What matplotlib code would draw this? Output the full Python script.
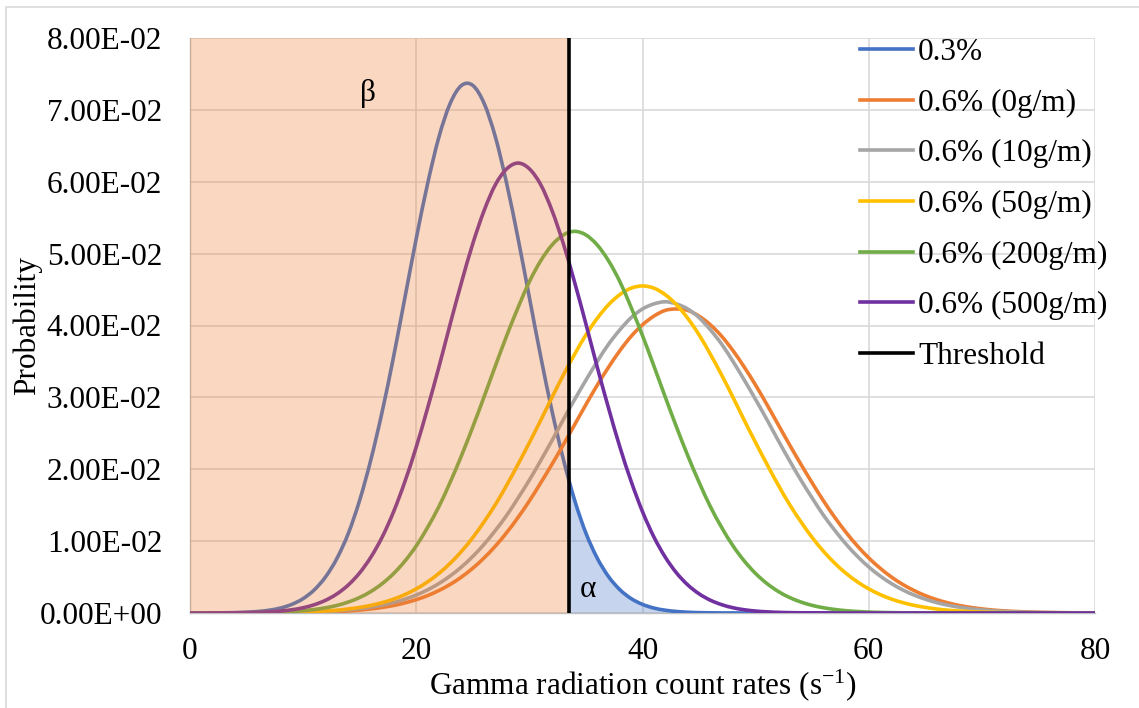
import numpy as np
import matplotlib
matplotlib.use("Agg")
import matplotlib.pyplot as plt
from matplotlib.patches import Rectangle, PathPatch
from matplotlib.path import Path
from matplotlib.ticker import FuncFormatter

plt.rcParams["font.family"] = ["Liberation Serif", "DejaVu Serif"]
plt.rcParams["mathtext.fontset"] = "custom"
plt.rcParams["mathtext.rm"] = "Liberation Serif"
plt.rcParams["mathtext.it"] = "Liberation Serif:italic"

# count rate axis (s^-1), one value per integer
count_rate = list(range(0, 81))

p_03 = [0, 0.00001, 0.00001, 0.00003, 0.00005, 0.00011, 0.00021, 0.00039, 0.00069, 0.00120,
        0.00200, 0.00324, 0.00506, 0.00763, 0.0111, 0.0157, 0.0214, 0.0281, 0.0357, 0.0439,
        0.0521, 0.0597, 0.0662, 0.0709, 0.0734, 0.0734, 0.0709, 0.0662, 0.0597, 0.0521,
        0.0439, 0.0357, 0.0281, 0.0214, 0.0157, 0.0111, 0.00763, 0.00506, 0.00324, 0.00200,
        0.00120, 0.00069, 0.00039, 0.00021, 0.00011, 0.00005, 0.00003, 0.00001, 0.00001, 0,
        0, 0, 0, 0, 0, 0, 0, 0, 0, 0,
        0, 0, 0, 0, 0, 0, 0, 0, 0, 0,
        0, 0, 0, 0, 0, 0, 0, 0, 0, 0, 0]

p_06_0 = [0, 0, 0, 0, 0, 0.00001, 0.00001, 0.00002, 0.00003, 0.00005,
          0.00007, 0.00010, 0.00015, 0.00021, 0.00029, 0.00041, 0.00057, 0.00078, 0.00105, 0.00141,
          0.00186, 0.00242, 0.00313, 0.00398, 0.00501, 0.00624, 0.00767, 0.00932, 0.0112, 0.0133,
          0.0156, 0.0181, 0.0207, 0.0234, 0.0262, 0.0290, 0.0317, 0.0342, 0.0365, 0.0385,
          0.0401, 0.0413, 0.0421, 0.0423, 0.0421, 0.0413, 0.0401, 0.0385, 0.0365, 0.0342,
          0.0317, 0.0290, 0.0262, 0.0234, 0.0207, 0.0181, 0.0156, 0.0133, 0.0112, 0.00932,
          0.00767, 0.00624, 0.00501, 0.00398, 0.00313, 0.00242, 0.00186, 0.00141, 0.00105, 0.00078,
          0.00057, 0.00041, 0.00029, 0.00021, 0.00015, 0.00010, 0.00007, 0.00005, 0.00003, 0.00002,
          0.00001]

p_06_10 = [0, 0, 0, 0, 0.00001, 0.00001, 0.00002, 0.00003, 0.00005, 0.00007,
           0.00010, 0.00015, 0.00021, 0.00030, 0.00043, 0.00059, 0.00081, 0.00109, 0.00145, 0.00192,
           0.00250, 0.00322, 0.00410, 0.00516, 0.00641, 0.00788, 0.00957, 0.0115, 0.0136, 0.0160,
           0.0185, 0.0212, 0.0240, 0.0269, 0.0297, 0.0324, 0.0350, 0.0374, 0.0394, 0.0411,
           0.0423, 0.0430, 0.0433, 0.0430, 0.0423, 0.0411, 0.0394, 0.0374, 0.0350, 0.0324,
           0.0297, 0.0269, 0.0240, 0.0212, 0.0185, 0.0160, 0.0136, 0.0115, 0.00957, 0.00788,
           0.00641, 0.00516, 0.00410, 0.00322, 0.00250, 0.00192, 0.00145, 0.00109, 0.00081, 0.00059,
           0.00043, 0.00030, 0.00021, 0.00015, 0.00010, 0.00007, 0.00005, 0.00003, 0.00002, 0.00001,
           0.00001]

p_06_50 = [0, 0, 0, 0.00001, 0.00001, 0.00002, 0.00002, 0.00004, 0.00006, 0.00009,
           0.00013, 0.00019, 0.00028, 0.00039, 0.00056, 0.00078, 0.00107, 0.00145, 0.00194, 0.00257,
           0.00336, 0.00433, 0.00551, 0.00692, 0.00858, 0.0105, 0.0127, 0.0151, 0.0178, 0.0207,
           0.0237, 0.0268, 0.0300, 0.0331, 0.0360, 0.0387, 0.0410, 0.0429, 0.0443, 0.0452,
           0.0455, 0.0452, 0.0443, 0.0429, 0.0410, 0.0387, 0.0360, 0.0331, 0.0300, 0.0268,
           0.0237, 0.0207, 0.0178, 0.0151, 0.0127, 0.0105, 0.00858, 0.00692, 0.00551, 0.00433,
           0.00336, 0.00257, 0.00194, 0.00145, 0.00107, 0.00078, 0.00056, 0.00039, 0.00028, 0.00019,
           0.00013, 0.00009, 0.00006, 0.00004, 0.00002, 0.00002, 0.00001, 0.00001, 0, 0,
           0]

p_06_200 = [0, 0, 0.00001, 0.00001, 0.00002, 0.00003, 0.00005, 0.00008, 0.00013, 0.00021,
            0.00032, 0.00049, 0.00073, 0.00106, 0.00153, 0.00216, 0.00300, 0.00410, 0.00549, 0.00723,
            0.00934, 0.0119, 0.0148, 0.0182, 0.0219, 0.0259, 0.0301, 0.0344, 0.0386, 0.0425,
            0.0461, 0.0490, 0.0512, 0.0526, 0.0531, 0.0526, 0.0512, 0.0490, 0.0461, 0.0425,
            0.0386, 0.0344, 0.0301, 0.0259, 0.0219, 0.0182, 0.0148, 0.0119, 0.00934, 0.00723,
            0.00549, 0.00410, 0.00300, 0.00216, 0.00153, 0.00106, 0.00073, 0.00049, 0.00032, 0.00021,
            0.00013, 0.00008, 0.00005, 0.00003, 0.00002, 0.00001, 0.00001, 0, 0, 0,
            0, 0, 0, 0, 0, 0, 0, 0, 0, 0, 0]

p_06_500 = [0, 0, 0.00001, 0.00002, 0.00003, 0.00005, 0.00009, 0.00016, 0.00027, 0.00045,
            0.00073, 0.00116, 0.00178, 0.00267, 0.00391, 0.00559, 0.00780, 0.0106, 0.0141, 0.0183,
            0.0231, 0.0285, 0.0342, 0.0402, 0.0460, 0.0514, 0.0560, 0.0596, 0.0618, 0.0626,
            0.0618, 0.0596, 0.0560, 0.0514, 0.0460, 0.0402, 0.0342, 0.0285, 0.0231, 0.0183,
            0.0141, 0.0106, 0.00780, 0.00559, 0.00391, 0.00267, 0.00178, 0.00116, 0.00073, 0.00045,
            0.00027, 0.00016, 0.00009, 0.00005, 0.00003, 0.00002, 0.00001, 0, 0, 0,
            0, 0, 0, 0, 0, 0, 0, 0, 0, 0,
            0, 0, 0, 0, 0, 0, 0, 0, 0, 0, 0]

threshold = 33.5

series = [
    ("0.3%", p_03, "#4472C4"),
    ("0.6% (0g/m)", p_06_0, "#ED7D31"),
    ("0.6% (10g/m)", p_06_10, "#A5A5A5"),
    ("0.6% (50g/m)", p_06_50, "#FFC000"),
    ("0.6% (200g/m)", p_06_200, "#70AD47"),
    ("0.6% (500g/m)", p_06_500, "#7030A0"),
]

FS = 22.5
LW = 2.6


def smooth_path(xs, ys):
    # Excel-style smoothed line: cubic Bezier segments through the data points
    xs = np.asarray(xs, float)
    ys = np.asarray(ys, float)
    pts = np.column_stack([xs, ys])
    ext = np.vstack([pts[0], pts, pts[-1]])
    verts = [pts[0]]
    codes = [Path.MOVETO]
    for i in range(len(pts) - 1):
        p0, p1, p2, p3 = ext[i], ext[i + 1], ext[i + 2], ext[i + 3]
        verts += [p1 + (p2 - p0) / 6, p2 - (p3 - p1) / 6, p2]
        codes += [Path.CURVE4] * 3
    return Path(verts, codes)


fig = plt.figure(figsize=(11.39, 7.08), dpi=100)
ax = fig.add_axes([190 / 1139, 1 - 613 / 708, 905 / 1139, 575 / 708])

# light chart border
fig.patches.append(Rectangle((6 / 1139, -0.1), 1.2, 1 - 7 / 708 + 0.1, transform=fig.transFigure,
                             fill=False, edgecolor="#D9D9D9", linewidth=1.2))

x = np.array(count_rate)
for label, vals, col in series:
    ax.add_patch(PathPatch(smooth_path(x, vals), fill=False, edgecolor=col, lw=LW,
                           joinstyle="round", capstyle="butt", zorder=3))
    ax.plot([], [], color=col, lw=LW, label=label)

# alpha region under the 0.3% curve, right of the threshold
fill = ax.fill_between(x, p_03, 0, color="#4472C4", alpha=0.3, lw=0, zorder=2)
clip = Rectangle((threshold, 0), 80 - threshold, 0.08, transform=ax.transData)
fill.set_clip_path(clip)

# beta region overlay
ax.axvspan(0, threshold, color="#ED7D31", alpha=0.3, lw=0, zorder=4)
ax.plot([threshold, threshold], [0, 0.08], color="black", lw=2.6, label="Threshold", zorder=5)

ax.text(15.7, 0.0723, "β", fontsize=FS, ha="center", va="center", zorder=6)
ax.text(35.2, 0.0033, "α", fontsize=FS, ha="center", va="center", zorder=6)

ax.set_xlim(0, 80)
ax.set_ylim(0, 0.08)
ax.set_xticks([0, 20, 40, 60, 80])
ax.set_yticks(np.arange(0, 0.0801, 0.01))
ax.yaxis.set_major_formatter(FuncFormatter(lambda v, p: "{:.2E}".format(v)))
ax.grid(True, color="#D9D9D9", lw=1.2, zorder=0)
ax.set_axisbelow(True)
ax.tick_params(length=0, labelsize=FS)
ax.tick_params(axis="y", pad=20)
ax.tick_params(axis="x", pad=17)
for s in ["top", "right"]:
    ax.spines[s].set_visible(False)
for s in ["left", "bottom"]:
    ax.spines[s].set_color("#BFBFBF")
    ax.spines[s].set_linewidth(1.0)

ax.set_xlabel("Gamma radiation count rates (s$^{-1}$)", fontsize=FS, labelpad=1)
ax.set_ylabel("Probability", fontsize=FS)
ax.yaxis.set_label_coords(-0.163, 0.5)

leg = ax.legend(loc="upper left", bbox_to_anchor=(860 / 1139, 1 - 38 / 708),
                bbox_transform=fig.transFigure, frameon=False, fontsize=FS,
                handlelength=1.7, handletextpad=0.16, labelspacing=0.69,
                borderpad=0, borderaxespad=0)
leg.set_zorder(7)

fig.savefig("out.png", dpi=100)
